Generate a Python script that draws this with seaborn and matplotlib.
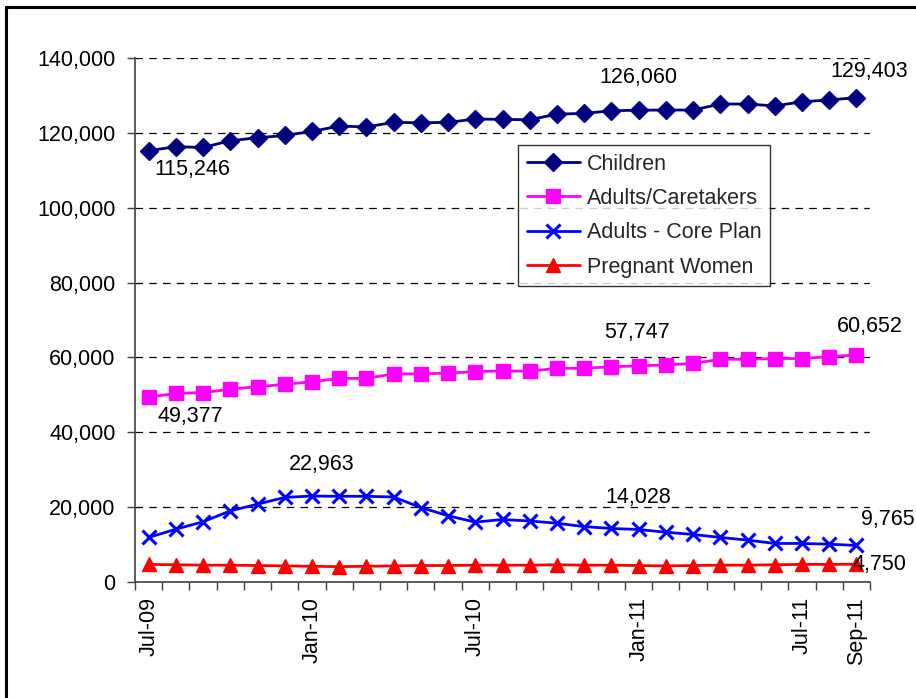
import matplotlib
matplotlib.use("Agg")
import matplotlib.pyplot as plt
import seaborn as sns
import pandas as pd
import numpy as np
from matplotlib.lines import Line2D
from matplotlib.ticker import FuncFormatter, FixedLocator

months = ["Jul-09", "Aug-09", "Sep-09", "Oct-09", "Nov-09", "Dec-09",
          "Jan-10", "Feb-10", "Mar-10", "Apr-10", "May-10", "Jun-10",
          "Jul-10", "Aug-10", "Sep-10", "Oct-10", "Nov-10", "Dec-10",
          "Jan-11", "Feb-11", "Mar-11", "Apr-11", "May-11", "Jun-11",
          "Jul-11", "Aug-11", "Sep-11"]

children = [115246, 116300, 116100, 117900, 118700, 119300, 120400, 121800, 121600,
            122800, 122700, 122800, 123700, 123600, 123500, 125000, 125200, 125900,
            126060, 126100, 126100, 127700, 127700, 127200, 128300, 128800, 129403]
adults_caretakers = [49377, 50400, 50600, 51500, 52200, 52800, 53500, 54400, 54400,
                     55600, 55600, 55800, 56200, 56400, 56300, 57100, 57100, 57500,
                     57747, 58000, 58400, 59500, 59500, 59700, 59700, 60200, 60652]
adults_core = [11900, 14100, 16100, 19000, 20800, 22600, 22963, 22900, 22900,
               22700, 19900, 17700, 16000, 16700, 16300, 15700, 14800, 14300,
               14028, 13300, 12700, 11900, 11200, 10300, 10300, 10100, 9765]
pregnant = [4700, 4600, 4500, 4500, 4400, 4300, 4200, 4100, 4200,
            4300, 4400, 4400, 4500, 4500, 4500, 4600, 4500, 4500,
            4400, 4300, 4400, 4500, 4500, 4600, 4700, 4700, 4750]

series_names = ["Children", "Adults/Caretakers", "Adults - Core Plan", "Pregnant Women"]
series_values = [children, adults_caretakers, adults_core, pregnant]
tick_labels = ["Jul-09", "Jan-10", "Jul-10", "Jan-11", "Jul-11", "Sep-11"]

# labels: (series index, point index, pixel offset)
label_points = [(0, 0, (44, -19)), (0, 18, (0, 33)), (0, 26, (13, 26)),
                (1, 0, (42, -19)), (1, 18, (-2, 33)), (1, 26, (13, 28)),
                (2, 6, (10, 32)), (2, 18, (0, 32)), (2, 26, (31, 26)),
                (3, 26, (23, 0))]

sns.set_theme(style="white")
plt.rcParams['font.family'] = ['Liberation Sans', 'DejaVu Sans']
FS = 15.5

colors = ["#000080", "#FF00FF", "#0000FF", "#FF0000"]
markers = ["D", "s", "x", "^"]
msizes = [9.5, 10, 10, 10]
LW = 2.0

fig = plt.figure(figsize=(9.16, 6.98), dpi=100)
ax = fig.add_axes([135 / 916, 1 - 582 / 698, 735 / 916, 524 / 698])

idx = np.arange(len(months))
for name, vals, c, m, ms in zip(series_names, series_values, colors, markers, msizes):
    df = pd.DataFrame({"x": idx, "y": vals})
    sns.lineplot(data=df, x="x", y="y", ax=ax, color=c, marker=m, markersize=ms,
                 markeredgecolor=c, markeredgewidth=2.2 if m == "x" else 1,
                 linewidth=LW, label=name, legend=False)

for s, i, off in label_points:
    v = series_values[s][i]
    ax.annotate(f"{v:,}", (i, v), xytext=off, textcoords="offset pixels",
                ha="center", va="center", fontsize=FS, color="black")

ax.set_xlim(-0.5, len(months) - 0.5)
ax.set_ylim(0, 140000)
ax.set_yticks(np.arange(0, 140001, 20000))
ax.yaxis.set_major_formatter(FuncFormatter(lambda v, p: f"{int(v):,}"))
ax.set_xlabel("")
ax.set_ylabel("")

pos = [months.index(t) for t in tick_labels]
ax.set_xticks(pos)
ax.set_xticklabels(tick_labels, rotation=90, fontsize=FS)
ax.xaxis.set_minor_locator(FixedLocator(np.arange(-0.5, len(months), 1)))
ax.tick_params(axis="x", which="major", length=0, pad=11, colors="black")
ax.tick_params(axis="x", which="minor", length=6, width=1, color="#404040", bottom=True)
ax.tick_params(axis="y", which="major", length=6, width=1, color="#404040", left=True,
               labelsize=FS, labelcolor="black", pad=8)

ax.grid(False)
for y in np.arange(20000, 140001, 20000):
    ax.axhline(y, color="black", linestyle=(0, (6, 5)), linewidth=0.9, zorder=0)

for sp in ["top", "right"]:
    ax.spines[sp].set_visible(False)
for sp in ["left", "bottom"]:
    ax.spines[sp].set_visible(True)
    ax.spines[sp].set_color("#404040")
    ax.spines[sp].set_linewidth(1.2)

handles = [Line2D([0], [0], color=c, marker=m, markersize=ms, linewidth=LW,
                  markeredgecolor=c, markeredgewidth=2.2 if m == "x" else 1)
           for c, m, ms in zip(colors, markers, msizes)]
leg = ax.legend(handles, series_names, loc="upper left", bbox_to_anchor=(0.521, 0.834),
                fontsize=FS, frameon=True, fancybox=False, edgecolor="black",
                borderpad=0.4, labelspacing=0.62, handlelength=2.5, handletextpad=0.3,
                borderaxespad=0)
leg.get_frame().set_linewidth(1.0)

# outer chart border (left and top visible in reference)
fig.add_artist(Line2D([6 / 916, 6 / 916], [0, 1 - 7 / 698], color="black", linewidth=2.2,
                      transform=fig.transFigure))
fig.add_artist(Line2D([6 / 916, 1], [1 - 7 / 698, 1 - 7 / 698], color="black", linewidth=2.2,
                      transform=fig.transFigure))

fig.savefig("out.png", dpi=100)
